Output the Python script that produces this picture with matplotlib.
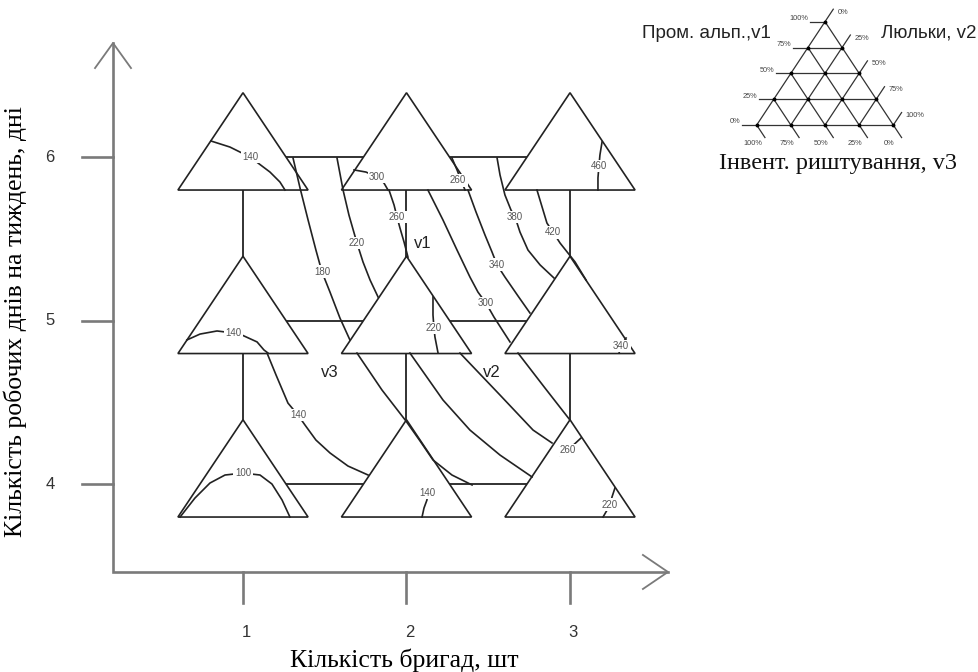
import numpy as np
import matplotlib.pyplot as plt
from matplotlib.patches import Polygon

# grid of the experiment: number of brigades x working days per week
brigades = [1, 2, 3]
days = [4, 5, 6]

# isolines of cost: (level, brigades coords, days coords, label position)
iso_lines = [
    (140, [0.804, 0.920, 1.043, 1.165, 1.226, 1.257], [6.101, 6.064, 6.003, 5.911, 5.850, 5.801], (1.043, 6.003)),
    (180, [1.306, 1.349, 1.398, 1.446, 1.483, 1.532, 1.593, 1.654], [5.997, 5.813, 5.618, 5.434, 5.300, 5.177, 5.018, 4.884], (1.483, 5.300)),
    (220, [1.575, 1.612, 1.648, 1.697, 1.734, 1.777, 1.826], [5.997, 5.801, 5.648, 5.477, 5.361, 5.251, 5.147], (1.697, 5.477)),
    (300, [1.679, 1.752, 1.820, 1.862, 1.887], [5.924, 5.911, 5.881, 5.844, 5.801], (1.820, 5.881)),
    (260, [1.893, 1.924, 1.942, 1.960, 1.985, 2.009], [5.801, 5.709, 5.636, 5.569, 5.483, 5.391], (1.942, 5.636)),
    (260, [2.278, 2.309, 2.333, 2.358], [5.997, 5.924, 5.862, 5.801], (2.315, 5.862)),
    (340, [2.376, 2.425, 2.480, 2.523, 2.554, 2.602, 2.682, 2.755], [5.801, 5.667, 5.526, 5.422, 5.343, 5.269, 5.153, 5.049], (2.554, 5.343)),
    (300, [2.131, 2.223, 2.309, 2.388, 2.437, 2.486, 2.535, 2.633], [5.801, 5.618, 5.434, 5.269, 5.177, 5.110, 5.024, 4.872], (2.486, 5.110)),
    (380, [2.554, 2.572, 2.602, 2.639, 2.664, 2.694, 2.743, 2.817, 2.902], [5.997, 5.893, 5.771, 5.679, 5.636, 5.544, 5.434, 5.343, 5.263], (2.664, 5.636)),
    (420, [2.798, 2.859, 2.896, 2.939, 3.031, 3.098], [5.801, 5.599, 5.544, 5.477, 5.361, 5.251], (2.896, 5.544)),
    (460, [3.196, 3.183, 3.177, 3.171, 3.171], [6.095, 6.015, 5.948, 5.875, 5.801], (3.177, 5.948)),
    (140, [0.657, 0.737, 0.841, 0.939, 0.994, 1.086, 1.128, 1.153], [4.884, 4.920, 4.939, 4.927, 4.914, 4.872, 4.823, 4.804], (0.939, 4.927)),
    (140, [1.147, 1.202, 1.275, 1.336, 1.379, 1.446, 1.532, 1.642, 1.765], [4.804, 4.670, 4.498, 4.425, 4.364, 4.272, 4.193, 4.113, 4.058], (1.336, 4.425)),
    (None, [1.697, 1.850, 1.997, 2.083, 2.162, 2.278, 2.401], [4.804, 4.578, 4.388, 4.266, 4.150, 4.058, 3.997], None),
    (None, [2.021, 2.223, 2.388, 2.572, 2.768], [4.804, 4.517, 4.333, 4.180, 4.046], None),
    (None, [2.327, 2.572, 2.774, 2.890], [4.804, 4.547, 4.333, 4.254], None),
    (None, [2.682, 2.847, 3.000], [4.804, 4.590, 4.394], None),
    (260, [3.067, 2.988, 2.939], [4.284, 4.211, 4.180], (2.988, 4.211)),
    (220, [3.275, 3.257, 3.245, 3.220, 3.202], [3.979, 3.924, 3.875, 3.832, 3.801], (3.245, 3.875)),
    (140, [2.095, 2.107, 2.125, 2.131], [3.801, 3.856, 3.905, 3.979], (2.125, 3.948)),
    (100, [0.615, 0.706, 0.798, 0.890, 1.000, 1.104, 1.177, 1.239, 1.287], [3.801, 3.917, 4.009, 4.058, 4.070, 4.058, 4.003, 3.905, 3.801], (1.000, 4.070)),
    (340, [3.343, 3.312, 3.300], [4.896, 4.847, 4.804], (3.312, 4.847)),
    (220, [2.162, 2.162, 2.168, 2.174, 2.193], [5.147, 5.037, 4.957, 4.902, 4.804], (2.168, 4.957)),
]

# which resource dominates each zone
zone_names = ['v1', 'v2', 'v3']
zone_x = [2.101, 2.523, 1.532]
zone_y = [5.477, 4.682, 4.682]

# ternary legend
pct = [0, 25, 50, 75, 100]
pct_labels = ['0%', '25%', '50%', '75%', '100%']

sans = 'Liberation Sans'
serif = 'Liberation Serif'
axis_col = '#7a7a7a'
ink = '#222222'

fig = plt.figure(figsize=(9.79, 6.72), dpi=100)
ax = fig.add_axes([0, 0, 1, 1])
ax.set_xlim(-0.4862, 5.5015)
ax.set_ylim(2.8532, 6.9633)
ax.axis('off')

# axes with arrows
x0, y0 = 0.205, 3.465
x_end, y_end = 3.599, 6.700
ax.plot([x0, x0, x_end], [y_end, y0, y0], color=axis_col, lw=1.9, solid_joinstyle='miter', zorder=1)
ax.plot([x0 - 0.11, x0, x0 + 0.11], [y_end - 0.153, y_end, y_end - 0.153], color=axis_col, lw=1.3, zorder=1)
ax.plot([x_end - 0.153, x_end, x_end - 0.153], [y0 + 0.104, y0, y0 - 0.104], color=axis_col, lw=1.3, zorder=1)
for d in days:
    ax.plot([x0 - 0.19, x0], [d, d], color=axis_col, lw=1.9, zorder=1)
    ax.text(-0.180, d, str(d), fontsize=12, family=sans, color='#333333', ha='center', va='center')
for b in brigades:
    ax.plot([b, b], [y0, y0 - 0.19], color=axis_col, lw=1.9, zorder=1)
    ax.text(b + 0.02, 3.092, str(b), fontsize=12, family=sans, color='#333333', ha='center', va='center')

ax.text(1.985, 2.927, 'Кількість бригад, шт', fontsize=18.5, family=serif, ha='center', va='center')
ax.text(-0.394, 4.994, 'Кількість робочих днів на тиждень, дні', fontsize=18.5, family=serif,
        rotation=90, ha='center', va='center')

# grid connecting the experiment points
for d in days:
    ax.plot([brigades[0], brigades[-1]], [d, d], color=ink, lw=1.3, zorder=2)
for b in brigades:
    ax.plot([b, b], [days[0], days[-1]], color=ink, lw=1.3, zorder=2)

# mixture triangle at each point
for b in brigades:
    for d in days:
        tri = Polygon([[b - 0.398, d - 0.199], [b + 0.398, d - 0.199], [b, d + 0.396]],
                      closed=True, facecolor='white', edgecolor=ink, lw=1.2, zorder=3)
        ax.add_patch(tri)

# isolines with their values
for level, xs, ys, lab in iso_lines:
    ax.plot(xs, ys, color=ink, lw=1.2, zorder=4)
    if level is not None:
        ax.text(lab[0], lab[1], str(level), fontsize=7, family=sans, color='#555555',
                ha='center', va='center', zorder=5,
                bbox=dict(boxstyle='square,pad=0.15', fc='white', ec='none'))

for name, zx, zy in zip(zone_names, zone_x, zone_y):
    ax.text(zx, zy, name, fontsize=12, family=sans, color='#222222', ha='center', va='center', zorder=5)

# ternary key: base 0..1, apex at (0.5, 1)
tx = fig.add_axes([0.7048, 0.7321, 0.2952, 0.2679])
tx.set_xlim(-0.488, 1.627)
tx.set_ylim(-0.532, 1.210)
tx.axis('off')
lc = '#333333'
ext = 0.11
for p, lab in zip(pct, pct_labels):
    k = p / 100
    # constant v1 (horizontal)
    tx.plot([k / 2 - ext, 1 - k / 2], [k, k], color=lc, lw=0.9)
    tx.text(k / 2 - ext - 0.01, k + 0.03, lab, fontsize=5.3, family=sans, color='#444444', ha='right', va='center')
    # constant v2 (parallel to left side)
    ex, ey = (1 + k) / 2 + 0.0605, 1 - k + 0.121
    tx.plot([k, ex], [0, ey], color=lc, lw=0.9)
    tx.text(ex + 0.03, ey - 0.03, lab, fontsize=5.3, family=sans, color='#444444', ha='left', va='center')
    # constant v3 (parallel to right side)
    tx.plot([(1 - k) / 2, 1 - k + 0.0605], [1 - k, -0.121], color=lc, lw=0.9)
    tx.text(1 - k - 0.03, -0.18, lab, fontsize=5.3, family=sans, color='#444444', ha='center', va='center')
for j in range(5):
    for i in range(5 - j):
        tx.plot(i / 4 + j / 8, j / 4, 'o', color='black', ms=1.8)

tx.text(-0.366, 0.888, 'Пром. альп.,v1', fontsize=13.5, family=sans, color='#222222', ha='center', va='center')
tx.text(1.261, 0.888, 'Люльки, v2', fontsize=13.5, family=sans, color='#222222', ha='center', va='center')
tx.text(0.595, -0.371, 'Інвент. риштування, v3', fontsize=17.5, family=serif, color='#111111', ha='center', va='center')

fig.savefig('out.png', dpi=100)
